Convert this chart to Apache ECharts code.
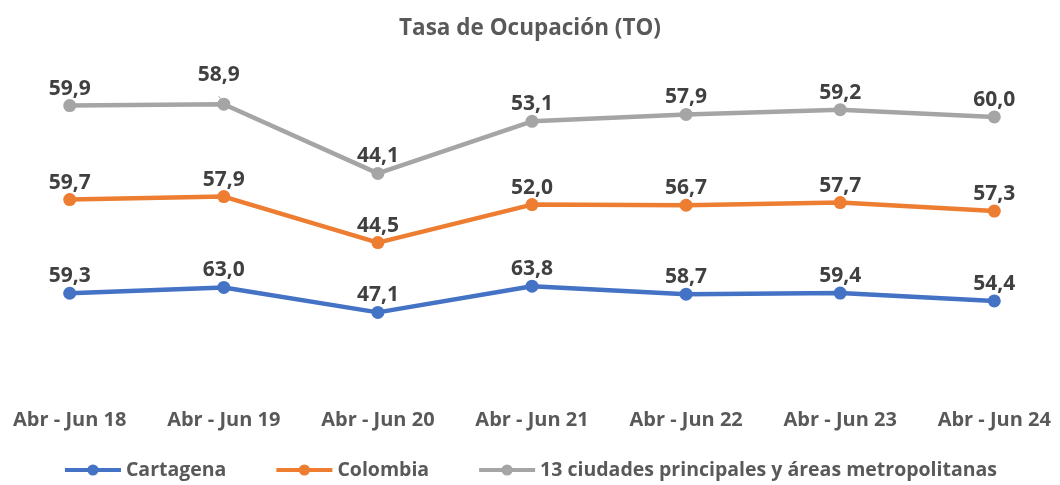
<!DOCTYPE html>
<html>
<head>
<meta charset="utf-8">
<script src="https://cdn.jsdelivr.net/npm/echarts@6/dist/echarts.min.js"></script>
<style>
  html, body { margin: 0; padding: 0; background: #fff; }
  #main { width: 1060px; height: 485px; }
</style>
</head>
<body>
<div id="main"></div>
<script>
  // periodos
  const categories = ['Abr - Jun 18', 'Abr - Jun 19', 'Abr - Jun 20', 'Abr - Jun 21', 'Abr - Jun 22', 'Abr - Jun 23', 'Abr - Jun 24']
  const cartagena = [59.3, 63.0, 47.1, 63.8, 58.7, 59.4, 54.4]
  const colombia = [59.7, 57.9, 44.5, 52.0, 56.7, 57.7, 57.3]
  const ciudades = [59.9, 58.9, 44.1, 53.1, 57.9, 59.2, 60.0]

  const fontFamily = '"Open Sans", sans-serif'
  const fmt = (p) => p.value.toFixed(1).replace('.', ',')

  function makeSeries(name, data, color) {
    return {
      name: name,
      type: 'line',
      stack: 'total',
      data: data,
      symbol: 'circle',
      symbolSize: 13,
      lineStyle: { width: 4.5, color: color },
      itemStyle: { color: color },
      label: {
        show: true,
        position: 'top',
        distance: 0,
        formatter: fmt,
        color: '#404040',
        fontFamily: fontFamily,
        fontWeight: 'bold',
        fontSize: 21
      }
    }
  }

  const myChart = echarts.init(document.getElementById('main'))
  const series = [
    makeSeries('Cartagena', cartagena, '#4472C4'),
    makeSeries('Colombia', colombia, '#ED7D31'),
    makeSeries('13 ciudades principales y áreas metropolitanas', ciudades, '#A5A5A5')
  ]
  // etiqueta desplazada del 58,9
  series[2].data = ciudades.map((v, i) => i === 1 ? {
    value: v,
    label: { offset: [-5, -12] },
    labelLine: { show: true, lineStyle: { color: '#A5A5A5', width: 1 } }
  } : v)

  myChart.setOption({
    animation: false,
    title: {
      text: 'Tasa de Ocupación (TO)',
      left: 'center',
      top: 12,
      textStyle: { color: '#595959', fontFamily: fontFamily, fontWeight: 'bold', fontSize: 22.5 }
    },
    legend: {
      bottom: 0,
      left: 'center',
      itemWidth: 56,
      itemHeight: 14,
      itemGap: 48,
      lineStyle: { width: 4 },
      textStyle: { color: '#595959', fontFamily: fontFamily, fontWeight: 'bold', fontSize: 19.5 }
    },
    grid: { left: 69.7, right: 65.7, top: 72.5, bottom: 98.7 },
    xAxis: {
      type: 'category',
      data: categories,
      boundaryGap: false,
      axisLine: { show: false },
      axisTick: { show: false },
      axisLabel: {
        margin: 24,
        color: '#595959',
        fontFamily: fontFamily,
        fontWeight: 'bold',
        fontSize: 20
      }
    },
    yAxis: {
      type: 'value',
      min: 0,
      max: 200,
      show: false,
      splitLine: { show: false }
    },
    series: series
  })
</script>
</body>
</html>
